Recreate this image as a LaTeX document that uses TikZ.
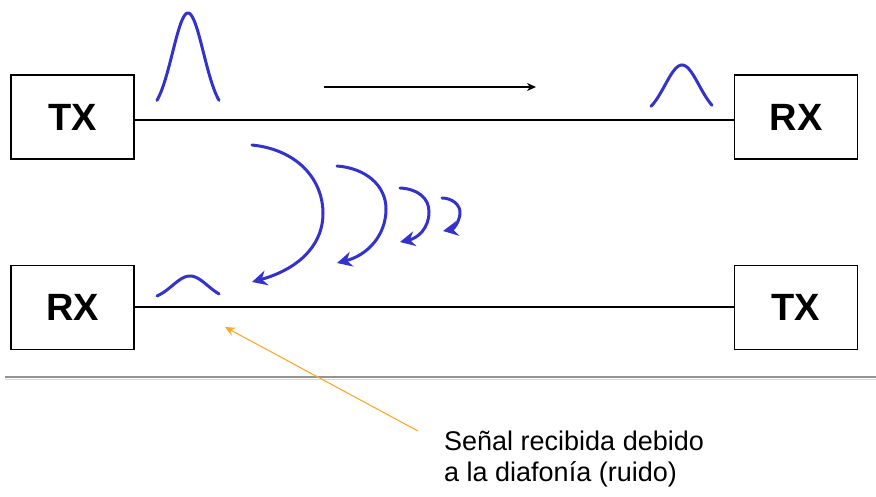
\documentclass[tikz,border=0pt]{standalone}
\usepackage{fontspec}
\setmainfont{Liberation Sans}
\usetikzlibrary{arrows.meta}
\definecolor{wblue}{RGB}{51,51,204}
\definecolor{worange}{RGB}{255,168,40}
\tikzset{
  unit/.style={draw=black, line width=1.3pt, minimum width=123pt, minimum height=84pt,
    inner sep=0pt, font=\fontsize{38}{38}\selectfont\bfseries},
  wire/.style={black, line width=1.3pt},
  pulse/.style={wblue, line width=3pt, line cap=round},
  xtalk/.style={wblue, line width=3pt, line cap=round, -{Stealth[length=15pt,width=15pt]}},
  dirarrow/.style={black, line width=1.5pt, -{Stealth[length=9pt,width=8pt]}},
  note/.style={worange, line width=1.1pt, -{Stealth[length=10pt,width=9pt]}},
}
\begin{document}
\begin{tikzpicture}[x=1pt,y=-1pt]
\useasboundingbox (0,0) rectangle (876,497);
% boxes
\node[unit] (tx1) at (72.5,117) {TX};
\node[unit] (rx1) at (796,117) {RX};
\node[unit] (rx2) at (72.5,307.5) {RX};
\node[unit] (tx2) at (796,307.5) {TX};
% wires
\draw[wire] (tx1.east |- 0,120) -- (rx1.west |- 0,120);
\draw[wire] (rx2.east |- 0,307) -- (tx2.west |- 0,307);
% pulses
\draw[pulse] plot[domain=157:219, samples=50, smooth] (\x, {114-101*exp(-((\x-188)^2)/(2*15.5^2))});
\draw[pulse] plot[domain=651:712, samples=50, smooth] (\x, {116-51*exp(-((\x-682)^2)/(2*17^2))});
\draw[pulse] plot[domain=157:219, samples=50, smooth] (\x, {300-24*exp(-((\x-190)^2)/(2*17.5^2))});
% direction arrow
\coordinate (da) at (324,87);
\coordinate (db) at (536,87);
\draw[dirarrow] (da) -- (db);
% crosstalk arcs
\draw[xtalk] (252,145) .. controls (300,150) and (323,182) .. (323,213)
  .. controls (323,248) and (295,270) .. (252,282);
\draw[xtalk] (337,166) .. controls (365,168) and (386,185) .. (386,209)
  .. controls (386,235) and (368,255) .. (337,263);
\draw[xtalk] (400,188) .. controls (418,189) and (429,198) .. (429,212)
  .. controls (429,228) and (418,238) .. (400,242);
\draw[xtalk] (442,198) .. controls (452,198) and (461,205) .. (460,214)
  .. controls (459,222) and (454,229) .. (443,231);
% separator
\draw[line width=2pt, color=gray!85] (5,376.5) -- (876,376.5);
\draw[line width=1.5pt, color=gray!30] (5,379.5) -- (876,379.5);
% note
\node[anchor=north west, align=left, inner sep=0pt, font=\fontsize{27}{31}\selectfont] (lbl) at (444,431)
  {Señal recibida debido\\a la diafonía (ruido)};
\coordinate (nt) at (225,327);
\draw[note] (lbl.north west) ++(-26,0) coordinate (ns) (ns) -- (nt);
\end{tikzpicture}
\end{document}
